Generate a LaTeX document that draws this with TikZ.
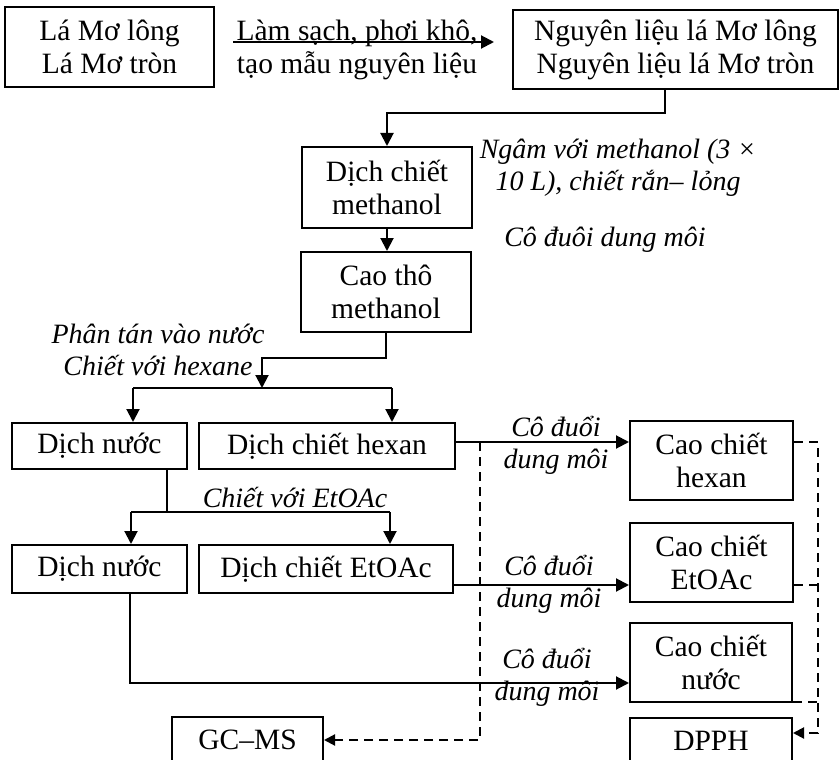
\documentclass[tikz,border=0pt]{standalone}
\usepackage{fontspec}
\setmainfont{Liberation Serif}
\usetikzlibrary{arrows.meta}
\begin{document}
\begin{tikzpicture}[x=1pt,y=-1pt,
  every node/.style={font=\fontsize{29.5}{33}\selectfont, inner sep=0pt, align=center},
  box/.style={draw, line width=2pt},
  lab/.style={},
  itl/.style={font=\fontsize{28}{32}\selectfont\itshape},
  conn/.style={line width=2pt},
  arr/.style={conn, -{Triangle[length=13pt,width=13pt]}},
  dconn/.style={conn, dash pattern=on 9pt off 6pt},
  darr/.style={dconn, -{Triangle[length=11pt,width=11pt]}}]
\useasboundingbox (0,0) rectangle (839,760);
% boxes
\node[box, minimum width=209pt, minimum height=80pt] (b1) at (109.5,47) {Lá Mơ lông\\Lá Mơ tròn};
\node[box, minimum width=325pt, minimum height=79pt] (b2) at (675.5,49.5) {Nguyên liệu lá Mơ lông\\Nguyên liệu lá Mơ tròn};
\node[box, minimum width=170pt, minimum height=81pt] (b3) at (387,187.5) {Dịch chiết\\methanol};
\node[box, minimum width=170pt, minimum height=80pt] (b4) at (386,292) {Cao thô\\methanol};
\node[box, minimum width=175pt, minimum height=46pt] (dn1) at (99.5,446) {Dịch nước};
\node[box, minimum width=256pt, minimum height=46pt] (hex) at (327,446) {Dịch chiết hexan};
\node[box, minimum width=175pt, minimum height=48pt] (dn2) at (99.5,569) {Dịch nước};
\node[box, minimum width=254pt, minimum height=48pt] (eto) at (326,569) {Dịch chiết EtOAc};
\node[box, minimum width=163pt, minimum height=79pt] (ch) at (711.5,460.5) {Cao chiết\\hexan};
\node[box, minimum width=163pt, minimum height=79pt] (ce) at (711.5,562.5) {Cao chiết\\EtOAc};
\node[box, minimum width=162pt, minimum height=79pt] (cn) at (711,662.5) {Cao chiết\\nước};
\node[box, minimum width=151pt, minimum height=46pt] (gc) at (247.5,740) {GC–MS};
\node[box, minimum width=162pt, minimum height=46pt] (dp) at (711,741) {DPPH};
% labels
\node[lab] (l1) at (357,50) {Làm sạch, phơi khô,\\tạo mẫu nguyên liệu};
\node[itl] (l2) at (618,168) {Ngâm với methanol (3 ×\\10 L), chiết rắn– lỏng};
\node[itl] (l3) at (605,240) {Cô đuôi dung môi};
\node[itl] (l4) at (158,350) {Phân tán vào nước\\Chiết với hexane};
\node[itl] (l5) at (295,497) {Chiết với EtOAc};
\node[itl] (l6) at (556,445) {Cô đuổi\\dung môi};
\node[itl] (l7) at (549,584) {Cô đuổi\\dung môi};
\node[itl] (l8) at (547,677) {Cô đuổi\\dung môi};
% connectors
\coordinate (a1) at (233,42);
\coordinate (a2) at (494,42);
\draw[arr] (a1) -- (a2);
\draw[arr] ([xshift=-10.5pt]b2.south) |- ([yshift=33pt]b3.north) -- (b3.north);
\draw[arr] (b3.south) -- (b3.south |- b4.north);
\coordinate (j1) at (262,388);
\draw[arr] (b4.south) -- ++(0,25) -| (j1);
\coordinate (s1) at (133,388);
\coordinate (s2) at (392,388);
\draw[conn] (s1) -- (s2);
\draw[arr] (s1) -- (s1 |- dn1.north);
\draw[arr] (s2) -- (s2 |- hex.north);
\coordinate (hy) at (455,442);
\draw[arr] (hex.east |- hy) -- (ch.west |- hy);
\coordinate (d1) at (480,442);
\draw[darr] (d1) |- (gc.east);
\coordinate (t1) at (167,512);
\draw[conn] (dn1.south -| t1) -- (t1);
\coordinate (u1) at (131,512);
\coordinate (u2) at (390,512);
\draw[conn] (u1) -- (u2);
\draw[arr] (u1) -- (u1 |- dn2.north);
\draw[arr] (u2) -- (u2 |- eto.north);
\coordinate (ey) at (453,585);
\draw[arr] (eto.east |- ey) -- (ce.west |- ey);
\coordinate (v1) at (130,683);
\draw[arr] (dn2.south -| v1) |- (cn.west |- v1);
\coordinate (r1) at (818,442);
\coordinate (r2) at (818,733);
\coordinate (r3) at (818,585);
\coordinate (r4) at (818,702);
\draw[darr] (ch.east |- r1) -- (r1) -- (r2) -- (dp.east |- r2);
\draw[dconn] (ce.east |- r3) -- (r3);
\draw[dconn] (cn.east |- r4) -- (r4);
\end{tikzpicture}
\end{document}
